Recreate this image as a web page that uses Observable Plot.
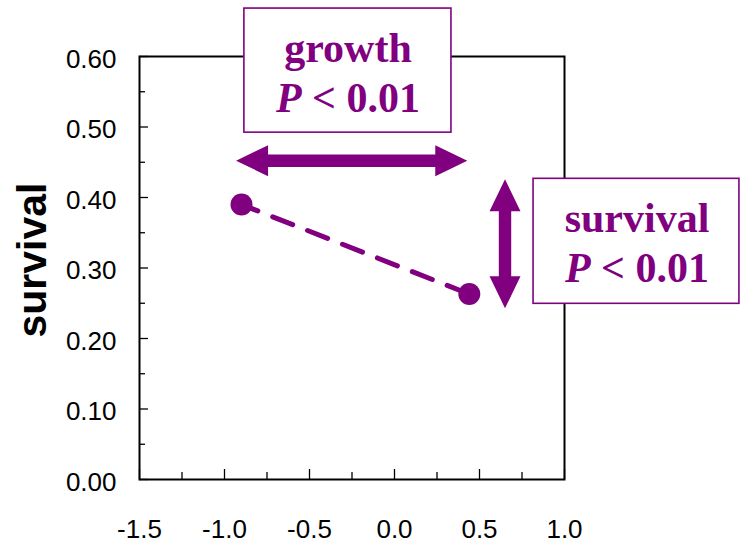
<!DOCTYPE html>
<html>
<head>
<meta charset="utf-8">
<script src="https://cdn.jsdelivr.net/npm/d3@7"></script>
<script src="https://cdn.jsdelivr.net/npm/@observablehq/plot@0.6"></script>
<style>
  html, body { margin: 0; padding: 0; background: #fff; }
  #chart svg { display: block; }
</style>
</head>
<body>
<div id="chart"></div>
<script>
// ---- data ----
const growthValues = [-0.90, 0.44];      // x (growth)
const survivalValues = [0.39, 0.263];    // y (survival)
const xMajorTicks = [-1.5, -1.0, -0.5, 0.0, 0.5, 1.0];
const xMinorTicks = [-1.25, -0.75, -0.25, 0.25, 0.75];
const yMajorTicks = [0.0, 0.1, 0.2, 0.3, 0.4, 0.5, 0.6];
const yMinorTicks = [0.05, 0.15, 0.25, 0.35, 0.45, 0.55];
const yTitle = "survival";

// annotation boxes (data units)
const boxX1 = [-0.883, 0.818];
const boxX2 = [0.335, 2.029];
const boxY1 = [0.668, 0.4265];
const boxY2 = [0.492, 0.2492];
// annotation texts
const noteText = ["growth", "P < 0.01", "survival", "P < 0.01"];
const noteX = [-0.2735, -0.2735, 1.4265, 1.4265];
const noteY = [0.5919, 0.521, 0.3508, 0.2799];
// double-headed arrows (tip to tip)
const arrowX1 = [-0.929, 0.653];
const arrowX2 = [0.431, 0.653];
const arrowY1 = [0.4515, 0.4251];
const arrowY2 = [0.4515, 0.2421];

const purple = "#800080";
const points = growthValues.map((g, i) => ({g, s: survivalValues[i]}));
const boxes = boxX1.map((_, i) => ({x1: boxX1[i], x2: boxX2[i], y1: boxY1[i], y2: boxY2[i]}));
const notes = noteText.map((t, i) => ({t, x: noteX[i], y: noteY[i]}));
const arrows = arrowX1.map((_, i) => ({x1: arrowX1[i], x2: arrowX2[i], y1: arrowY1[i], y2: arrowY2[i]}));

function doubleArrowRender(I, scales, values) {
  const g = d3.create("svg:g");
  const h = 32, w = 15.5, s = 6.2;
  for (const i of I) {
    const X1 = values.x1[i], Y1 = values.y1[i], X2 = values.x2[i], Y2 = values.y2[i];
    const L = Math.hypot(X2 - X1, Y2 - Y1);
    const a = Math.atan2(Y2 - Y1, X2 - X1) * 180 / Math.PI;
    const d = `M0,0 L${h},${-w} L${h},${-s} L${L - h},${-s} L${L - h},${-w} L${L},0 L${L - h},${w} L${L - h},${s} L${h},${s} L${h},${w} Z`;
    g.append("path")
      .attr("transform", `translate(${X1},${Y1}) rotate(${a})`)
      .attr("d", d)
      .attr("fill", purple);
  }
  return g.node();
}

function italicP(I, scales, values, dims, ctx, next) {
  const g = next(I, scales, values, dims, ctx);
  g.querySelectorAll("text").forEach(t => {
    const str = t.textContent;
    if (str.startsWith("P ")) {
      t.textContent = "";
      const ns = "http://www.w3.org/2000/svg";
      const a = document.createElementNS(ns, "tspan");
      a.setAttribute("font-style", "italic");
      a.textContent = "P";
      const b = document.createElementNS(ns, "tspan");
      b.textContent = str.slice(1);
      t.appendChild(a); t.appendChild(b);
    }
  });
  return g;
}

const sansFont = "'Liberation Sans', Arial, sans-serif";
const serifFont = "'Liberation Serif', 'Times New Roman', serif";

const chart = Plot.plot({
  width: 740,
  height: 543,
  marginLeft: 139,
  marginRight: 176,
  marginTop: 56,
  marginBottom: 64,
  style: {fontFamily: sansFont, background: "#fff", color: "#000"},
  x: {domain: [-1.5, 1.0]},
  y: {domain: [0, 0.6]},
  marks: [
    // inward ticks
    Plot.axisX({ticks: xMajorTicks, tickSize: -10, text: null, label: null, stroke: "#000", strokeWidth: 1.3}),
    Plot.axisX({ticks: xMinorTicks, tickSize: -7, text: null, label: null, stroke: "#000", strokeWidth: 1.3}),
    Plot.axisY({ticks: yMajorTicks, tickSize: -9, text: null, label: null, stroke: "#000", strokeWidth: 1.3}),
    Plot.axisY({ticks: yMinorTicks, tickSize: -6, text: null, label: null, stroke: "#000", strokeWidth: 1.3}),
    // tick labels
    Plot.axisX({ticks: xMajorTicks, tickSize: 0, tickPadding: 40, tickFormat: d => d.toFixed(1),
      label: null, fontSize: 26, fill: "#000"}),
    Plot.axisY({ticks: yMajorTicks, tickSize: 0, tickPadding: 23, tickFormat: d => d.toFixed(2),
      label: null, fontSize: 26, fill: "#000", dy: 3}),
    Plot.frame({stroke: "#000", strokeWidth: 2}),
    // y title
    Plot.text([yTitle], {frameAnchor: "left", text: d => d, rotate: -90, lineAnchor: "bottom",
      textAnchor: "middle", dx: -94, dy: -8, fontSize: 41, fontWeight: "bold", fill: "#000",
      fontFamily: sansFont}),
    // data
    Plot.line(points, {x: "g", y: "s", stroke: purple, strokeWidth: 5,
      strokeDasharray: "21.5,16", strokeDashoffset: 4}),
    Plot.dot(points, {x: "g", y: "s", r: 11, fill: purple, stroke: "none"}),
    // annotations
    Plot.link(arrows, {x1: "x1", y1: "y1", x2: "x2", y2: "y2", render: doubleArrowRender}),
    Plot.rect(boxes, {x1: "x1", x2: "x2", y1: "y1", y2: "y2", fill: "#fff", stroke: purple, strokeWidth: 1.6}),
    Plot.text(notes, {x: "x", y: "y", text: "t", lineAnchor: "bottom", fontSize: 42, fontWeight: "bold",
      fontFamily: serifFont, fill: purple, render: italicP})
  ]
});
document.getElementById("chart").appendChild(chart);
</script>
</body>
</html>
